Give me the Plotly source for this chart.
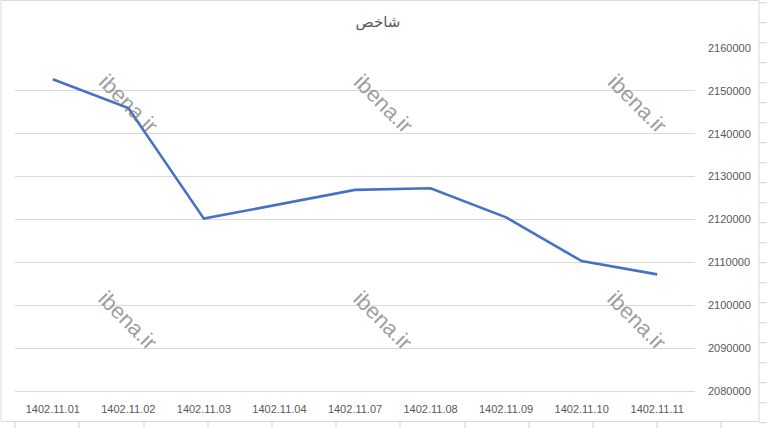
import plotly.graph_objects as go

# ---- data ----
categories = ["1402.11.01", "1402.11.02", "1402.11.03", "1402.11.04", "1402.11.07",
              "1402.11.08", "1402.11.09", "1402.11.10", "1402.11.11"]
values = [2152700, 2146000, 2120200, 2123600, 2126900, 2127300, 2120500, 2110300, 2107200]
y_ticks = [2080000, 2090000, 2100000, 2110000, 2120000, 2130000, 2140000, 2150000, 2160000]
title_text = "شاخص"
watermark = "ibena.ir"

# ---- layout geometry ----
W, H = 767, 428
ML, MR, MT, MB = 15, 72, 48, 37
PW, PH = W - ML - MR, H - MT - MB


def px(x):
    return (x - ML) / PW


def py(y):
    return (H - MB - y) / PH


fig = go.Figure()
fig.add_trace(go.Scatter(
    x=categories, y=values, mode="lines",
    line=dict(color="#4472C4", width=2.6),
    hoverinfo="x+y", showlegend=False,
))

shapes = []
# chart frame
shapes.append(dict(type="rect", xref="paper", yref="paper",
                   x0=px(1), x1=px(759), y0=py(421.5), y1=py(0.5),
                   line=dict(color="#D9D9D9", width=1), fillcolor="rgba(0,0,0,0)", layer="below"))
# spreadsheet cell lines outside the chart
for cx in [15, 79, 144, 208, 272, 336, 400, 465, 529, 593, 657, 721]:
    shapes.append(dict(type="line", xref="paper", yref="paper",
                       x0=px(cx), x1=px(cx), y0=py(422), y1=py(428),
                       line=dict(color="#D4D4D4", width=1)))
for k in range(22):
    cy = 2.7 + 20 * k
    shapes.append(dict(type="line", xref="paper", yref="paper",
                       x0=px(759), x1=px(767), y0=py(cy), y1=py(cy),
                       line=dict(color="#D4D4D4", width=1)))

annotations = []
for wx, wy in [(128, 104), (383, 104), (637, 104), (128, 320), (383, 320), (637, 320)]:
    annotations.append(dict(
        text=watermark, xref="paper", yref="paper", x=px(wx), y=py(wy),
        showarrow=False, textangle=45,
        font=dict(family="Liberation Sans, Arial, sans-serif", size=22, color="rgba(120,120,120,0.72)"),
        xanchor="center", yanchor="middle",
    ))

fig.update_layout(
    width=W, height=H,
    margin=dict(l=ML, r=MR, t=MT, b=MB, pad=0, autoexpand=False),
    paper_bgcolor="white", plot_bgcolor="white",
    title=dict(text=title_text, x=378 / W, xref="container", xanchor="center",
               y=1 - 22 / H, yref="container", yanchor="middle",
               font=dict(family="DejaVu Sans, Liberation Sans, sans-serif", size=15, color="#595959")),
    xaxis=dict(type="category", range=[-0.5, len(categories) - 0.5], automargin=False,
               showgrid=False, showline=True, linecolor="#D9D9D9", linewidth=1,
               ticks="", tickfont=dict(family="Liberation Sans, Arial, sans-serif", size=11, color="#595959"),
               ticklabelstandoff=8, fixedrange=True),
    yaxis=dict(side="right", range=[y_ticks[0], y_ticks[-1]], tickvals=y_ticks, automargin=False,
               ticktext=[str(v) for v in y_ticks],
               showgrid=True, gridcolor="#D9D9D9", gridwidth=1, zeroline=False, showline=False,
               ticks="", tickfont=dict(family="Liberation Sans, Arial, sans-serif", size=11, color="#595959"),
               ticklabelstandoff=12, fixedrange=True),
    shapes=shapes, annotations=annotations,
)

fig.write_html("out.html", config={"displayModeBar": False},
               post_script="document.body.style.margin='0';document.body.style.overflow='hidden';")
